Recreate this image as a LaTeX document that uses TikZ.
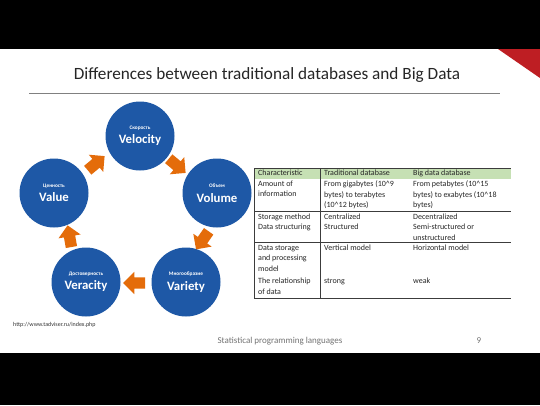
\documentclass[tikz,border=0pt]{standalone}
\usepackage{fontspec}
\setmainfont{Carlito}
\usetikzlibrary{shapes.arrows}
\definecolor{vblue}{RGB}{30,88,166}
\definecolor{vorange}{RGB}{228,108,10}
\definecolor{hgreen}{RGB}{198,224,180}
\definecolor{tline}{RGB}{60,60,60}
\definecolor{cornerred}{RGB}{190,30,35}
\begin{document}
\begin{tikzpicture}[x=1pt,y=-1pt,
 vcircle/.style={circle,fill=vblue,minimum size=69pt,inner sep=0pt,text=white,align=center},
 varrow/.style={single arrow,fill=vorange,minimum height=22pt,minimum width=22pt,inner xsep=0pt,inner ysep=5.5pt,single arrow head extend=5.5pt},
 cell/.style={anchor=north west,inner sep=0pt,align=left,font=\fontsize{8}{10.6}\selectfont,text=black!85},
 rule/.style={draw=tline,line width=0.6pt},
]
\useasboundingbox (0,0) rectangle (540,405);
\fill[white] (0,0) rectangle (540,405);
\fill[black] (0,0) rectangle (540,49);
\fill[black] (0,353) rectangle (540,405);
\fill[cornerred] (498,49) -- (540,49) -- (540,78) -- cycle;

\node[font=\fontsize{17.2}{20}\selectfont,text=black!85] (title) at (267,75) {Differences between traditional databases and Big Data};
\draw[gray,line width=0.8pt] (29,93) -- (500,93);

% circles
\node[vcircle] (vel) at (140,136) {{\bfseries\fontsize{5.3}{6}\selectfont Скорость}\\[2.5pt]{\bfseries\fontsize{12.8}{13}\selectfont Velocity}};
\node[vcircle] (vol) at (217,193) {{\bfseries\fontsize{5.3}{6}\selectfont Объем}\\[2.5pt]{\bfseries\fontsize{12.8}{13}\selectfont Volume}};
\node[vcircle] (var) at (186,282) {{\bfseries\fontsize{5.3}{6}\selectfont Многообразие}\\[2.5pt]{\bfseries\fontsize{12.8}{13}\selectfont Variety}};
\node[vcircle] (ver) at (86,282) {{\bfseries\fontsize{5.3}{6}\selectfont Достоверность}\\[2.5pt]{\bfseries\fontsize{12.8}{13}\selectfont Veracity}};
\node[vcircle] (val) at (54,193) {{\bfseries\fontsize{5.3}{6}\selectfont Ценность}\\[2.5pt]{\bfseries\fontsize{12.8}{13}\selectfont Value}};

% arrows
\node[varrow,rotate=40] (a1) at (94,165) {};
\node[varrow,rotate=-40] (a2) at (175,164) {};
\node[varrow,rotate=-125] (a3) at (204,238) {};
\node[varrow,rotate=180] (a4) at (137,283) {};
\node[varrow,rotate=100] (a5) at (70,239) {};

% table
\fill[hgreen] (254,168) rectangle (511,179);
\draw[rule,line width=0.8pt] (254,168) -- (511,168);
\draw[rule] (254,211.5) -- (511,211.5);
\draw[rule] (254,242.5) -- (511,242.5);
\draw[rule] (254,298.5) -- (511,298.5);
\draw[rule] (254,168) -- (254,298.5);
\draw[rule] (320,168) -- (320,298.5);

\node[cell] (h1) at (258,169.5) {Characteristic};
\node[cell] (h2) at (324,169.5) {Traditional database};
\node[cell] (h3) at (413,169.5) {Big data database};

\node[cell] (r11) at (258,180.5) {Amount of\\information};
\node[cell] (r12) at (324,180.5) {From gigabytes (10\textasciicircum9\\bytes) to terabytes\\(10\textasciicircum12 bytes)};
\node[cell] (r13) at (413,180.5) {From petabytes (10\textasciicircum15\\bytes) to exabytes (10\textasciicircum18\\bytes)};

\node[cell] (r21) at (258,213.5) {Storage method\\Data structuring};
\node[cell] (r22) at (324,213.5) {Centralized\\Structured};
\node[cell] (r23) at (413,213.5) {Decentralized\\Semi-structured or\\unstructured};

\node[cell] (r31) at (258,245) {Data storage\\and processing\\model};
\node[cell] (r32) at (324,245) {Vertical model};
\node[cell] (r33) at (413,245) {Horizontal model};

\node[cell] (r41) at (258,278) {The relationship\\of data};
\node[cell] (r42) at (324,278) {strong};
\node[cell] (r43) at (413,278) {weak};

% footer
\node[anchor=west,font=\fontsize{6}{7}\selectfont,text=black!80,inner sep=0pt] (url) at (13,325) {http://www.tadviser.ru/index.php};
\node[font=\fontsize{9}{10}\selectfont,text=black!55] (foot) at (280,341) {Statistical programming languages};
\node[font=\fontsize{9}{10}\selectfont,text=black!55] (page) at (479,341) {9};
\end{tikzpicture}
\end{document}
